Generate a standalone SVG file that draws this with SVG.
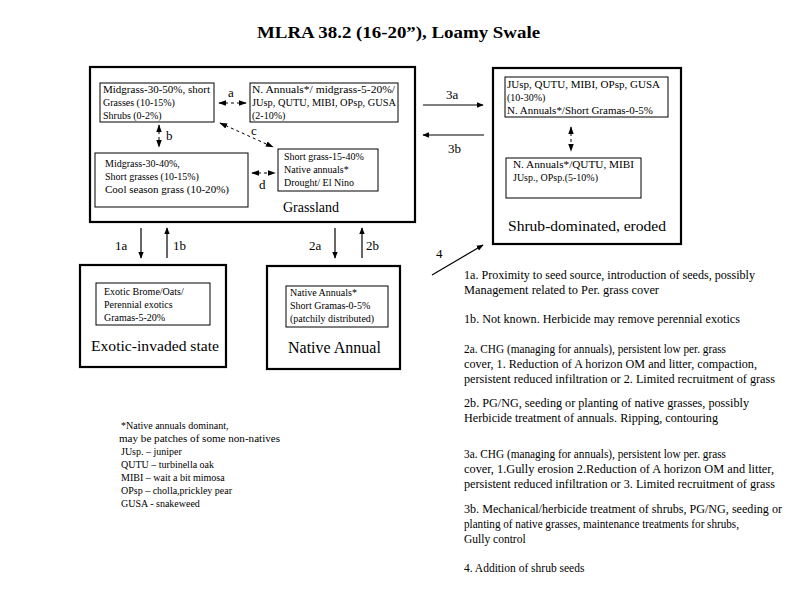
<svg xmlns="http://www.w3.org/2000/svg" width="800" height="600" viewBox="0 0 800 600">
<style>
text{font-family:'Liberation Serif','DejaVu Serif','Noto Serif',serif;fill:#000}
.title{font-size:16px;font-weight:bold}
.box{font-size:10px}
.lab{font-size:13px}
.big{font-size:14px}
.note{font-size:11.5px}
.foot{font-size:10px}
.outer{fill:#fff;stroke:#000;stroke-width:2.2}
.inner{fill:#fff;stroke:#000;stroke-width:1}
.dash{stroke:#000;stroke-width:1;stroke-dasharray:3,3;fill:none}
.solid{stroke:#000;stroke-width:1.2;fill:none}
</style>
<defs>
<marker id="ah" viewBox="0 0 10 10" refX="9" refY="5" markerWidth="7" markerHeight="7" orient="auto-start-reverse" markerUnits="userSpaceOnUse">
<path d="M0,1 L10,5 L0,9 z" fill="#000"/>
</marker>
<marker id="ahs" viewBox="0 0 10 10" refX="9" refY="5" markerWidth="8" markerHeight="8" orient="auto-start-reverse" markerUnits="userSpaceOnUse">
<path d="M0,1.5 L10,5 L0,8.5 z" fill="#000"/>
</marker>
</defs>
<rect width="800" height="600" fill="#fff"/>
<text class="title" x="257" y="38" textLength="283" lengthAdjust="spacingAndGlyphs">MLRA 38.2 (16-20”), Loamy Swale</text>

<g id="grassland">
<rect class="outer" x="90" y="67" width="325" height="155"/>
<text class="big" x="283" y="212">Grassland</text>
</g>
<g id="g1">
<rect class="inner" x="100" y="83" width="114" height="39"/>
<text class="box" x="103" y="93" textLength="107" lengthAdjust="spacingAndGlyphs">Midgrass-30-50%, short</text>
<text class="box" x="103" y="106">Grasses (10-15%)</text>
<text class="box" x="103" y="119">Shrubs (0-2%)</text>
</g>
<g id="g2">
<rect class="inner" x="250" y="83" width="148" height="39"/>
<text class="box" x="252" y="93" textLength="143" lengthAdjust="spacingAndGlyphs">N. Annuals*/ midgrass-5-20%/</text>
<text class="box" x="252" y="106" textLength="144" lengthAdjust="spacingAndGlyphs">JUsp, QUTU, MIBI, OPsp, GUSA</text>
<text class="box" x="252" y="119">(2-10%)</text>
</g>
<g id="g3">
<rect class="inner" x="95" y="153" width="153" height="54"/>
<text class="box" x="105" y="167">Midgrass-30-40%,</text>
<text class="box" x="105" y="180">Short grasses (10-15%)</text>
<text class="box" x="105" y="193" textLength="124" lengthAdjust="spacingAndGlyphs">Cool season grass (10-20%)</text>
</g>
<g id="g4">
<rect class="inner" x="278" y="149" width="100" height="42"/>
<text class="box" x="284" y="160">Short grass-15-40%</text>
<text class="box" x="284" y="173">Native annuals*</text>
<text class="box" x="284" y="186">Drought/ El Nino</text>
</g>

<g id="shrub">
<rect class="outer" x="493" y="68" width="188" height="176"/>
<text class="big" x="508" y="231" textLength="158" lengthAdjust="spacingAndGlyphs">Shrub-dominated, eroded</text>
</g>
<g id="s1">
<rect class="inner" x="505" y="77" width="163" height="40"/>
<text class="box" x="507" y="88" textLength="153" lengthAdjust="spacingAndGlyphs">JUsp, QUTU, MIBI, OPsp, GUSA</text>
<text class="box" x="507" y="101">(10-30%)</text>
<text class="box" x="507" y="114" textLength="146" lengthAdjust="spacingAndGlyphs">N. Annuals*/Short Gramas-0-5%</text>
</g>
<g id="s2">
<rect class="inner" x="506" y="158" width="135" height="40"/>
<text class="box" x="513" y="168" textLength="121" lengthAdjust="spacingAndGlyphs">N. Annuals*/QUTU, MIBI</text>
<text class="box" x="513" y="181">JUsp., OPsp.(5-10%)</text>
</g>

<g id="exotic">
<rect class="outer" x="80" y="265" width="146" height="102"/>
<rect class="inner" x="96" y="283" width="114" height="42"/>
<text class="box" x="104" y="295">Exotic Brome/Oats/</text>
<text class="box" x="104" y="308">Perennial exotics</text>
<text class="box" x="104" y="321">Gramas-5-20%</text>
<text class="big" x="91" y="351" textLength="128" lengthAdjust="spacingAndGlyphs">Exotic-invaded state</text>
</g>

<g id="native">
<rect class="outer" x="267" y="266" width="133" height="103"/>
<rect class="inner" x="286" y="286" width="102" height="41"/>
<text class="box" x="290" y="296">Native Annuals*</text>
<text class="box" x="290" y="309">Short Gramas-0-5%</text>
<text class="box" x="290" y="322">(patchily distributed)</text>
<text class="big" x="288" y="353" style="font-size:16px">Native Annual</text>
</g>

<g id="connectors">
<line class="dash" x1="219" y1="103" x2="246" y2="103" marker-start="url(#ahs)" marker-end="url(#ahs)"/>
<line class="dash" x1="159" y1="125" x2="159" y2="147" marker-start="url(#ahs)" marker-end="url(#ahs)"/>
<line class="dash" x1="220" y1="123" x2="273" y2="147" marker-start="url(#ahs)" marker-end="url(#ahs)"/>
<line class="dash" x1="252" y1="173" x2="275" y2="173" marker-start="url(#ahs)" marker-end="url(#ahs)"/>
<line class="dash" x1="571" y1="127" x2="571" y2="151" marker-start="url(#ahs)" marker-end="url(#ahs)"/>
<line class="solid" x1="423" y1="105" x2="483" y2="105" marker-end="url(#ah)"/>
<line class="solid" x1="484" y1="135" x2="423" y2="135" marker-end="url(#ah)"/>
<line class="solid" x1="141" y1="228" x2="141" y2="258" marker-end="url(#ah)"/>
<line class="solid" x1="167" y1="258" x2="167" y2="228" marker-end="url(#ah)"/>
<line class="solid" x1="335" y1="228" x2="335" y2="258" marker-end="url(#ah)"/>
<line class="solid" x1="362" y1="258" x2="362" y2="228" marker-end="url(#ah)"/>
<line class="solid" x1="432" y1="275" x2="483" y2="245" marker-end="url(#ah)"/>
<text class="lab" x="228" y="97">a</text>
<text class="lab" x="166" y="140">b</text>
<text class="lab" x="251" y="135">c</text>
<text class="lab" x="259" y="189">d</text>
<text class="lab" x="446" y="99">3a</text>
<text class="lab" x="448" y="153">3b</text>
<text class="lab" x="115" y="250">1a</text>
<text class="lab" x="173" y="250">1b</text>
<text class="lab" x="309" y="250">2a</text>
<text class="lab" x="366" y="250">2b</text>
<text class="lab" x="436" y="258">4</text>
</g>

<g id="notes">
<text class="note" x="464" y="279" textLength="291" lengthAdjust="spacingAndGlyphs">1a. Proximity to seed source, introduction of seeds, possibly</text>
<text class="note" x="464" y="294" textLength="195" lengthAdjust="spacingAndGlyphs">Management related to Per. grass cover</text>
<text class="note" x="464" y="323" textLength="276" lengthAdjust="spacingAndGlyphs">1b. Not known. Herbicide may remove perennial exotics</text>
<text class="note" x="464" y="353" textLength="262" lengthAdjust="spacingAndGlyphs">2a. CHG (managing for annuals), persistent low per. grass</text>
<text class="note" x="464" y="368" textLength="293" lengthAdjust="spacingAndGlyphs">cover, 1. Reduction of A horizon OM and litter, compaction,</text>
<text class="note" x="464" y="383" textLength="311" lengthAdjust="spacingAndGlyphs">persistent reduced infiltration or 2. Limited recruitment of grass</text>
<text class="note" x="464" y="407" textLength="285" lengthAdjust="spacingAndGlyphs">2b. PG/NG, seeding or planting of native grasses, possibly</text>
<text class="note" x="464" y="422" textLength="254" lengthAdjust="spacingAndGlyphs">Herbicide treatment of annuals. Ripping, contouring</text>
<text class="note" x="464" y="458" textLength="262" lengthAdjust="spacingAndGlyphs">3a. CHG (managing for annuals), persistent low per. grass</text>
<text class="note" x="464" y="473" textLength="310" lengthAdjust="spacingAndGlyphs">cover, 1.Gully erosion 2.Reduction of A horizon OM and litter,</text>
<text class="note" x="464" y="488" textLength="311" lengthAdjust="spacingAndGlyphs">persistent reduced infiltration or 3. Limited recruitment of grass</text>
<text class="note" x="464" y="513" textLength="318" lengthAdjust="spacingAndGlyphs">3b. Mechanical/herbicide treatment of shrubs, PG/NG, seeding or</text>
<text class="note" x="464" y="528" textLength="275" lengthAdjust="spacingAndGlyphs">planting of native grasses, maintenance treatments for shrubs,</text>
<text class="note" x="464" y="543">Gully control</text>
<text class="note" x="464" y="572">4. Addition of shrub seeds</text>
</g>

<g id="footnote">
<text class="foot" x="121" y="429">*Native annuals dominant,</text>
<text class="foot" x="119" y="442" textLength="161" lengthAdjust="spacingAndGlyphs">may be patches of some non-natives</text>
<text class="foot" x="121" y="455">JUsp. – juniper</text>
<text class="foot" x="121" y="468">QUTU – turbinella oak</text>
<text class="foot" x="121" y="481">MIBI – wait a bit mimosa</text>
<text class="foot" x="121" y="494">OPsp – cholla,prickley pear</text>
<text class="foot" x="121" y="507">GUSA - snakeweed</text>
</g>
</svg>
